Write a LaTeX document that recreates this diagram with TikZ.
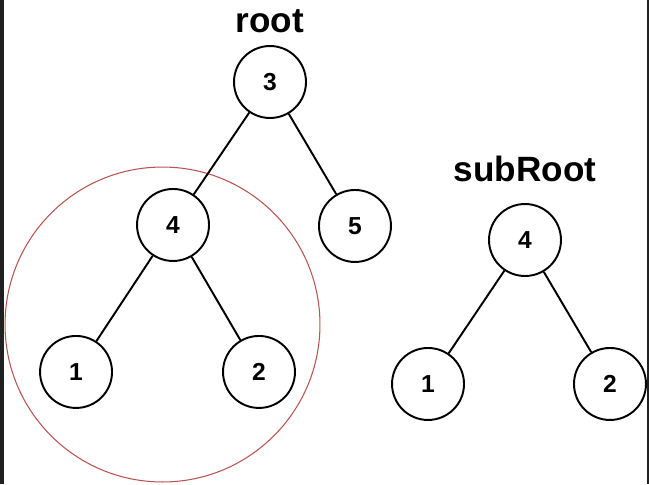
\documentclass[tikz,border=0pt]{standalone}
\usepackage{fontspec}
\setmainfont{Liberation Sans}
\usetikzlibrary{positioning}

\definecolor{ringred}{RGB}{184,84,80}
\definecolor{edgedark}{RGB}{32,32,32}

\tikzstyle{treenode} = [circle, draw, line width=1.1pt, 
minimum size=1.44cm, inner sep=0pt, font=\fontsize{14}{16}\selectfont\bfseries]
\tikzstyle{title} = [font=\fontsize{20}{24}\selectfont\bfseries, inner sep=0pt]
\tikzstyle{ring} = [circle, draw=ringred, line width=0.6pt, 
minimum size=6.3cm, inner sep=0pt]
\tikzstyle{link} = [line width=1.1pt, draw]

\begin{document}
\begin{tikzpicture}[x=0.02cm, y=-0.02cm, on grid]
	\useasboundingbox (0,0) rectangle (649,484);
	%dark screen edges
	\fill[edgedark] (0,0) rectangle (4,484);
	\fill[edgedark] (646.5,0) rectangle (649,484);

	%ring round the matching subtree
	\node[ring](match) at (162.5,324.5){};

	%nodes for root tree
	\node[treenode](root3) at (270,82){3};
	\node[title, above=1.21cm of root3](rootlabel){root};
	\node[treenode, below left=2.86cm and 1.94cm of root3](left4){4};
	\node[treenode, below right=2.88cm and 1.7cm of root3](right5){5};
	\node[treenode, below left=2.94cm and 1.94cm of left4](left1){1};
	\node[treenode, below right=2.94cm and 1.72cm of left4](left2){2};
	%nodes for subRoot
	\node[treenode](sub4) at (525,240){4};
	\node[title, above=1.43cm of sub4](sublabel){subRoot};
	\node[treenode, below left=2.88cm and 1.94cm of sub4](sub1){1};
	\node[treenode, below right=2.88cm and 1.7cm of sub4](sub2){2};

	%edges
	\path[link] (root3) -- (left4);
	\path[link] (root3) -- (right5);
	\path[link] (left4) -- (left1);
	\path[link] (left4) -- (left2);
	\path[link] (sub4) -- (sub1);
	\path[link] (sub4) -- (sub2);
\end{tikzpicture}
\end{document}
